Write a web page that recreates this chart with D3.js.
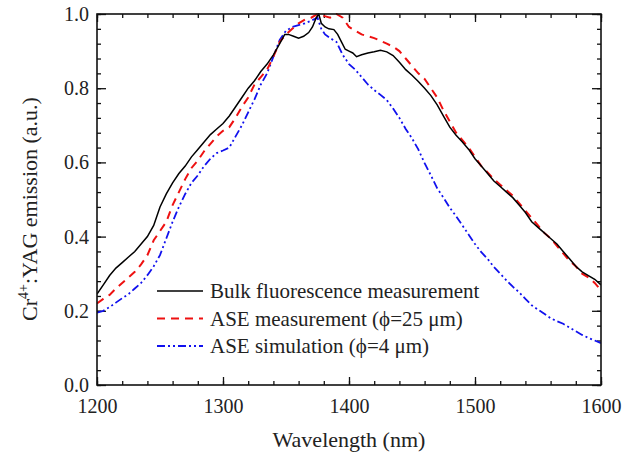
<!DOCTYPE html>
<html><head><meta charset="utf-8">
<script src="https://cdn.jsdelivr.net/npm/d3@7"></script>
</head><body style="margin:0"><svg id="c" width="636" height="455" style="font-family:'Liberation Serif'"></svg>
<script>
const bulkX=[1200,1205,1210,1215,1220,1225,1230,1235,1240,1245,1250,1255,1260,1265,1270,1275,1280,1285,1290,1295,1300,1305,1310,1315,1320,1325,1330,1335,1340,1345,1349,1352,1356,1360,1364,1368,1371,1374,1376,1378,1381,1384,1388,1391,1394,1397,1400,1403,1406,1410,1415,1420,1425,1430,1435,1440,1445,1450,1455,1460,1465,1470,1475,1480,1485,1490,1495,1500,1505,1510,1515,1520,1525,1530,1535,1540,1545,1550,1555,1560,1565,1570,1575,1580,1585,1590,1595,1600];
const bulkY=[0.245,0.27,0.295,0.315,0.33,0.345,0.36,0.38,0.40,0.43,0.48,0.515,0.545,0.57,0.59,0.615,0.635,0.655,0.675,0.69,0.705,0.725,0.75,0.775,0.80,0.82,0.845,0.865,0.89,0.92,0.945,0.945,0.94,0.935,0.94,0.95,0.965,0.99,1.0,0.975,0.965,0.96,0.958,0.945,0.925,0.905,0.9,0.895,0.885,0.89,0.895,0.898,0.902,0.898,0.888,0.87,0.85,0.835,0.818,0.8,0.78,0.755,0.725,0.695,0.673,0.655,0.635,0.61,0.59,0.57,0.55,0.535,0.52,0.505,0.485,0.465,0.44,0.425,0.41,0.395,0.38,0.36,0.34,0.32,0.305,0.295,0.285,0.27];
const aseMeasX=[1200,1205,1210,1215,1220,1225,1230,1235,1240,1245,1250,1255,1260,1265,1270,1275,1280,1285,1290,1295,1300,1305,1310,1315,1320,1325,1330,1335,1340,1345,1350,1355,1360,1365,1370,1375,1380,1385,1390,1395,1400,1405,1410,1415,1420,1425,1430,1435,1440,1445,1450,1455,1460,1465,1470,1475,1480,1485,1490,1495,1500,1505,1510,1515,1520,1525,1530,1535,1540,1545,1550,1555,1560,1565,1570,1575,1580,1585,1590,1595,1600];
const aseMeasY=[0.22,0.232,0.243,0.26,0.275,0.29,0.305,0.325,0.35,0.39,0.415,0.44,0.485,0.52,0.555,0.585,0.605,0.63,0.65,0.67,0.685,0.695,0.72,0.75,0.775,0.81,0.83,0.85,0.885,0.925,0.945,0.96,0.975,0.985,0.99,1.0,0.995,0.99,1.0,0.99,0.965,0.955,0.945,0.94,0.935,0.928,0.92,0.912,0.9,0.88,0.86,0.84,0.825,0.8,0.775,0.74,0.71,0.68,0.66,0.64,0.615,0.59,0.573,0.555,0.54,0.525,0.51,0.49,0.47,0.45,0.43,0.41,0.395,0.375,0.355,0.335,0.32,0.3,0.29,0.275,0.255];
const aseSimX=[1200,1205,1210,1215,1220,1225,1230,1235,1240,1245,1250,1255,1260,1265,1270,1275,1280,1285,1290,1295,1300,1305,1310,1315,1320,1325,1330,1335,1340,1345,1350,1355,1360,1365,1370,1375,1378,1381,1385,1390,1395,1400,1405,1410,1415,1420,1425,1430,1435,1440,1445,1450,1455,1460,1465,1470,1475,1480,1485,1490,1495,1500,1505,1510,1515,1520,1525,1530,1535,1540,1545,1550,1555,1560,1565,1570,1575,1580,1585,1590,1595,1600];
const aseSimY=[0.195,0.2,0.21,0.222,0.234,0.245,0.26,0.275,0.296,0.32,0.35,0.395,0.44,0.48,0.515,0.545,0.565,0.59,0.61,0.625,0.632,0.64,0.67,0.7,0.735,0.77,0.81,0.84,0.885,0.93,0.955,0.965,0.97,0.975,0.982,0.99,0.96,0.945,0.935,0.925,0.89,0.865,0.85,0.83,0.81,0.795,0.782,0.768,0.745,0.72,0.69,0.665,0.635,0.598,0.565,0.53,0.505,0.478,0.455,0.43,0.405,0.38,0.358,0.34,0.318,0.3,0.282,0.265,0.25,0.232,0.215,0.203,0.192,0.18,0.172,0.165,0.155,0.145,0.135,0.127,0.12,0.113];
const seriesNames=["Bulk fluorescence measurement","ASE measurement (\u03d5=25 \u03bcm)","ASE simulation (\u03d5=4 \u03bcm)"];
const xTicks=[1200,1300,1400,1500,1600];
const yTicks=[0.0,0.2,0.4,0.6,0.8,1.0];

const svg=d3.select("#c");
const m={l:97,t:14,r:35,b:70};
const W=636-m.l-m.r, H=455-m.t-m.b;
const x=d3.scaleLinear().domain([1200,1600]).range([0,W]);
const y=d3.scaleLinear().domain([0,1]).range([H,0]);
const g=svg.append("g").attr("transform",`translate(${m.l},${m.t})`);

function txt(sel,size){sel.style("font-family","Liberation Serif").style("font-size",size+"px").attr("fill","#222");}
const minorX=d3.range(1200,1601,20), minorY=d3.range(0,1.0001,0.04);
function axisStyle(sel){sel.attr("font-family",null).attr("font-size",null);sel.selectAll(".domain").remove();sel.selectAll("line").attr("stroke","#111").attr("stroke-width",1.3);}
const ab=g.append("g").attr("transform",`translate(0,${H})`).call(d3.axisBottom(x).tickValues(xTicks).tickSize(-8).tickPadding(14).tickFormat(d3.format("d")));
axisStyle(ab); txt(ab.selectAll("text"),20);
const abm=g.append("g").attr("transform",`translate(0,${H})`).call(d3.axisBottom(x).tickValues(minorX).tickSize(-4).tickFormat(""));axisStyle(abm);
const at=g.append("g").call(d3.axisTop(x).tickValues(xTicks).tickSize(-8).tickFormat(""));axisStyle(at);
const atm=g.append("g").call(d3.axisTop(x).tickValues(minorX).tickSize(-4).tickFormat(""));axisStyle(atm);
const al=g.append("g").call(d3.axisLeft(y).tickValues(yTicks).tickSize(-9).tickPadding(8).tickFormat(d3.format(".1f")));
axisStyle(al); txt(al.selectAll("text"),20);
const alm=g.append("g").call(d3.axisLeft(y).tickValues(minorY).tickSize(-4).tickFormat(""));axisStyle(alm);
const ar=g.append("g").attr("transform",`translate(${W},0)`).call(d3.axisRight(y).tickValues(yTicks).tickSize(-9).tickFormat(""));axisStyle(ar);
const arm=g.append("g").attr("transform",`translate(${W},0)`).call(d3.axisRight(y).tickValues(minorY).tickSize(-4).tickFormat(""));axisStyle(arm);

const series=[
 {xs:bulkX,ys:bulkY,color:"#000",dash:null,w:1.5},
 {xs:aseMeasX,ys:aseMeasY,color:"#ee1111",dash:"8,6",w:2},
 {xs:aseSimX,ys:aseSimY,color:"#1111ee",dash:"8,3,2,3,2,3",w:1.8}
];
const line=d3.line().x(d=>x(d[0])).y(d=>y(d[1]));
svg.append("defs").append("clipPath").attr("id","pc").append("rect").attr("width",W).attr("height",H+1).attr("y",-1);
series.slice().reverse().forEach(s=>{
 g.append("path").attr("clip-path","url(#pc)").datum(s.xs.map((v,i)=>[v,s.ys[i]])).attr("fill","none").attr("stroke",s.color).attr("stroke-width",s.w).attr("stroke-dasharray",s.dash).attr("d",line);
});
g.append("rect").attr("width",W).attr("height",H).attr("fill","none").attr("stroke","#111").attr("stroke-width",1.6);

const lg=svg.append("g");
seriesNames.forEach((n,i)=>{
 const yy=291+i*27.5;
 lg.append("line").attr("x1",157).attr("x2",203).attr("y1",yy).attr("y2",yy).attr("stroke",series[i].color).attr("stroke-width",series[i].w).attr("stroke-dasharray",series[i].dash);
 txt(lg.append("text").attr("x",210).attr("y",yy+7).text(n),21);
});
txt(svg.append("text").attr("x",m.l+W/2).attr("y",447).attr("text-anchor","middle").text("Wavelength (nm)"),22);
const yt=svg.append("text").attr("transform","translate(37,209) rotate(-90)").attr("text-anchor","middle");
txt(yt,22);
yt.append("tspan").text("Cr");
yt.append("tspan").attr("dy",-9).style("font-size","14px").text("4+");
yt.append("tspan").attr("dy",9).text(":YAG emission (a.u.)");
</script></body></html>
